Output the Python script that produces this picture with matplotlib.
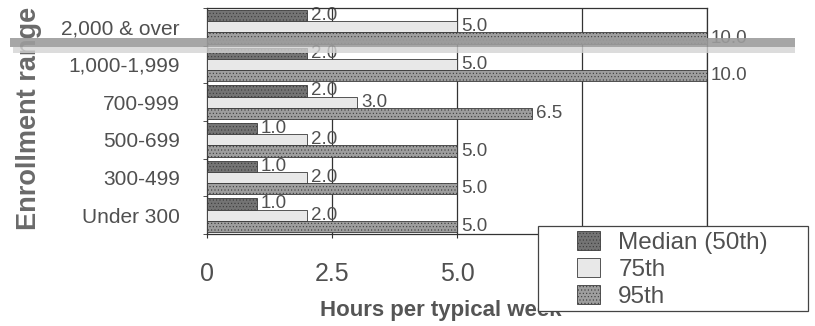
import numpy as np
import matplotlib
matplotlib.use("Agg")
import matplotlib.pyplot as plt
from matplotlib.patches import Rectangle

plt.rcParams["font.family"] = ["Liberation Sans", "DejaVu Sans"]
plt.rcParams["hatch.linewidth"] = 0.4

categories = ["2,000 & over", "1,000-1,999", "700-999", "500-699", "300-499", "Under 300"]
median = [2.0, 2.0, 2.0, 1.0, 1.0, 1.0]
p75 = [5.0, 5.0, 3.0, 2.0, 2.0, 2.0]
p95 = [10.0, 10.0, 6.5, 5.0, 5.0, 5.0]
series = [("Median (50th)", median, "#747474"), ("75th", p75, "#e8e8e8"), ("95th", p95, "#9e9e9e")]
xticks = [0, 2.5, 5.0, 7.5, 10.0]
xticklabels = ["0", "2.5", "5.0", "7.5", "10.0"]

TXT = "#505050"
W, H = 815, 326
fig = plt.figure(figsize=(W / 100, H / 100), dpi=100)
ax = fig.add_axes([207 / W, 1 - 234 / H, 500 / W, 226 / H])

n = len(categories)
y = np.arange(n)[::-1].astype(float)
bh = 0.30
handles = []
for k, (name, vals, col) in enumerate(series):
    yy = y + (1 - k) * bh
    h = ax.barh(yy, vals, height=bh, color=col, edgecolor="#3a3a3a", lw=0.6,
                hatch="....." if k != 1 else None, label=name, zorder=3)
    handles.append(h)
    for yi, v in zip(yy, vals):
        ax.text(v + 0.08, yi, f"{v:.1f}", va="center", ha="left",
                fontsize=13.5, color=TXT, zorder=2)

ax.set_xlim(0, 10)
ax.set_ylim(-0.5, n - 0.5)
ax.set_xticks(xticks)
ax.set_xticklabels(xticklabels, fontsize=18, color=TXT)
ax.tick_params(axis="x", length=3, pad=17, color="#333")
ax.set_yticks(y)
ax.set_yticklabels(categories, fontsize=15, color=TXT)
ax.set_yticks(np.arange(n + 1) - 0.5, minor=True)
ax.tick_params(axis="y", which="major", length=0, pad=19.5)
ax.tick_params(axis="y", which="minor", length=3, color="#333")
ax.grid(axis="x", color="#333", lw=0.9, zorder=1)
for s in ax.spines.values():
    s.set_color("#333")
    s.set_linewidth(0.9)

ax.set_xlabel("Hours per typical week", fontsize=16, fontweight="bold", color="#555")
ax.xaxis.set_label_coords(234 / 500, -66 / 226)
ax.set_ylabel("Enrollment range", fontsize=19.5, fontweight="bold", color="#6a6a6a")
ax.yaxis.set_label_coords(-165 / 500, 0.51)

# legend sits in a white box laid over the lower right of the plot
fig.patches.append(Rectangle((538 / W, 1 - 311 / H), 270 / W, 85 / H, transform=fig.transFigure,
                             facecolor="white", edgecolor="#444", lw=0.9, zorder=4))
leg = fig.legend(handles=handles, loc="upper left", bbox_to_anchor=(577 / W, 1 - 231 / H),
                 fontsize=17.5, frameon=False, labelcolor=TXT,
                 handlelength=0.95, handleheight=0.85, borderaxespad=0, borderpad=0,
                 labelspacing=0.15, handletextpad=0.75)
leg.set_zorder(5)

# grey streak across the upper part of the sheet
fig.patches.append(Rectangle((10 / W, 1 - 47 / H), 785 / W, 9 / H, transform=fig.transFigure,
                             facecolor="#9c9c9c", edgecolor="none", alpha=0.9, zorder=10))
fig.patches.append(Rectangle((13 / W, 1 - 53 / H), 782 / W, 6 / H, transform=fig.transFigure,
                             facecolor="#d4d4d4", edgecolor="none", alpha=0.8, zorder=10))

fig.savefig("out.png", dpi=100)
